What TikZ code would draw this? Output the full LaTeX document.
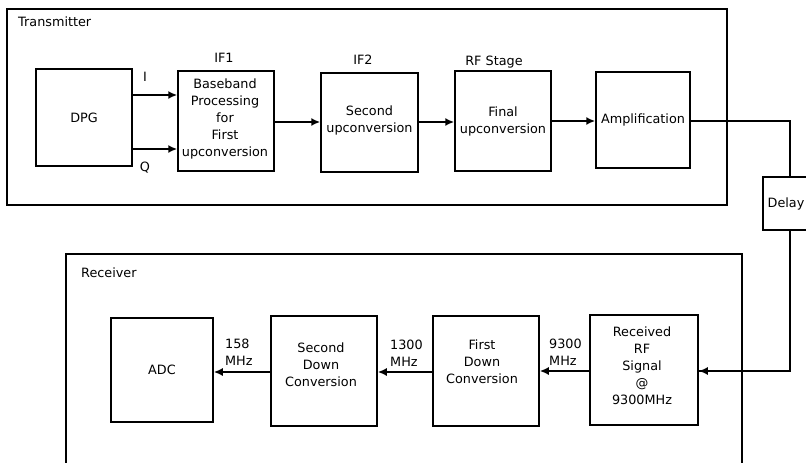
\documentclass[tikz,border=0pt]{standalone}
\usepackage{fontspec}
\setmainfont{DejaVu Sans}
\usetikzlibrary{arrows.meta}
\begin{document}
\begin{tikzpicture}[x=1pt,y=-1pt,
  every node/.style={font=\fontsize{12.8}{17}\selectfont},
  blk/.style={draw,line width=1.5pt,rectangle,inner sep=0pt,align=center},
  outer/.style={draw,line width=2pt},
  txt/.style={inner sep=0pt,align=center},
  lbl/.style={inner sep=0pt,anchor=west,align=left},
  arr/.style={line width=1.7pt,-{Latex[length=9pt,width=8pt]}},
  wire/.style={line width=1.5pt}]
\clip (0,0) rectangle (806,463);
\fill[white] (0,0) rectangle (806,463);
% outer frames
\draw[outer] (7,9) rectangle (727,205);
\draw[outer] (66,254) rectangle (742,480);
\node[lbl] (txlab) at (18,22) {Transmitter};
\node[lbl] (rxlab) at (81,273) {Receiver};
% transmitter blocks
\node[blk,minimum width=96pt,minimum height=97pt] (dpg) at (84,117.5) {DPG};
\node[blk,minimum width=96pt,minimum height=100pt] (bb) at (226,121) {};
\node[txt] (bbt) at (225,119) {Baseband\\Processing\\for\\First\\upconversion};
\node[blk,minimum width=97pt,minimum height=99pt] (sec) at (369.5,122.5) {};
\node[txt] (sect) at (369.5,120) {Second\\upconversion};
\node[blk,minimum width=96pt,minimum height=100pt] (fin) at (503,121) {};
\node[txt] (fint) at (503,121) {Final\\upconversion};
\node[blk,minimum width=94pt,minimum height=96pt] (amp) at (643,120) {Amplification};
\node[blk,minimum width=52pt,minimum height=53pt] (dly) at (789,203.5) {};
\node[txt] (dlyt) at (786,203.5) {Delay};
\node[txt] (if1) at (224,58) {IF1};
\node[txt] (if2) at (363,60) {IF2};
\node[txt] (rfs) at (494,62) {RF Stage};
\node[txt] (il) at (145,77) {I};
\node[txt] (ql) at (145,168) {Q};
% receiver blocks
\node[blk,minimum width=102pt,minimum height=104pt] (adc) at (162,370) {ADC};
\node[blk,minimum width=106pt,minimum height=110pt] (sdc) at (324,371) {};
\node[txt] (sdct) at (321,365) {Second\\Down\\Conversion};
\node[blk,minimum width=106pt,minimum height=110pt] (fdc) at (486,371) {};
\node[txt] (fdct) at (482,362) {First\\Down\\Conversion};
\node[blk,minimum width=108pt,minimum height=110pt] (rcv) at (644,370) {};
\node[txt] (rcvt) at (642,366) {Received\\RF\\Signal\\@\\9300MHz};
\node[lbl] (f158) at (225,352.5) {158\\MHz};
\node[lbl] (f1300) at (390,353) {1300\\MHz};
\node[lbl] (f9300) at (549,352.5) {9300\\MHz};
% coordinates for the delay loop
\coordinate (c1) at (790,121);
\coordinate (c2) at (790,371);
% transmitter arrows
\draw[arr] (dpg.east |- 0,95) -- (bb.west |- 0,95);
\draw[arr] (dpg.east |- 0,149) -- (bb.west |- 0,149);
\draw[arr] (bb.east |- 0,122) -- (sec.west |- 0,122);
\draw[arr] (sec.east |- 0,122) -- (fin.west |- 0,122);
\draw[arr] (fin.east |- 0,121) -- (amp.west |- 0,121);
\draw[wire] (amp.east |- c1) -- (c1) -- (c1 |- dly.north);
\draw[wire] (c1 |- dly.south) -- (c2) -- (rcv.east |- c2);
\draw[arr] (c2) -- (rcv.east |- c2);
% receiver arrows
\draw[arr] (rcv.west |- 0,371) -- (fdc.east |- 0,371);
\draw[arr] (fdc.west |- 0,372) -- (sdc.east |- 0,372);
\draw[arr] (sdc.west |- 0,372) -- (adc.east |- 0,372);
\end{tikzpicture}
\end{document}
